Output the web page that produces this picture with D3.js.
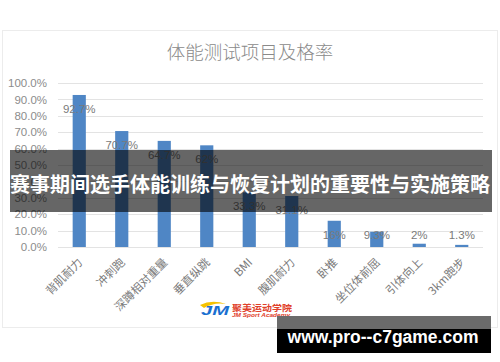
<!DOCTYPE html>
<html><head><meta charset="utf-8">
<script src="https://cdn.jsdelivr.net/npm/d3@7/dist/d3.min.js"></script>
<style>body{margin:0;background:#fff}svg{display:block}</style>
</head><body>
<svg id="c" width="500" height="362"></svg>
<script>
const categories = ["背肌耐力","冲刺跑","深蹲相对重量","垂直纵跳","BMI","腹肌耐力","卧推","坐位体前屈","引体向上","3km跑步"];
const values = [92.7, 70.7, 64.7, 62, 33.3, 31.1, 16, 9.3, 2, 1.3];
const valueLabels = ["92.7%","70.7%","64.7%","62%","33.3%","31.1%","16%","9.3%","2%","1.3%"];
const yTicks = [0,10,20,30,40,50,60,70,80,90,100];
const title = "体能测试项目及格率";
const banner = "赛事期间选手体能训练与恢复计划的重要性与实施策略";
const site = "www.pro--c7game.com";

const svg = d3.select("#c");
const cjk = "'Noto Sans CJK SC', sans-serif";
const lat = "'Liberation Sans', Arial, sans-serif";

// frame
svg.append("rect").attr("x",2.5).attr("y",30.5).attr("width",495).attr("height",297)
  .attr("fill","#fff").attr("stroke","#ececec");

svg.append("text").attr("x",250).attr("y",59).attr("text-anchor","middle")
  .attr("font-family",cjk).attr("font-weight",300).attr("font-size",18.5).attr("fill","#8a8a8a")
  .text(title);

const x = d3.scaleBand().domain(categories).range([58,483]).paddingInner(0.69).paddingOuter(0.345);
const y = d3.scaleLinear().domain([0,100]).range([247,83]);

// grid
svg.append("g").selectAll("line").data(yTicks).join("line")
  .attr("x1",58).attr("x2",483).attr("y1",d=>Math.round(y(d))+0.5).attr("y2",d=>Math.round(y(d))+0.5)
  .attr("stroke","#e3e3e3").attr("stroke-width",1.2);

// y axis labels
const yAxis = d3.axisLeft(y).tickValues(yTicks).tickFormat(d=>d.toFixed(1)+"%").tickSize(0).tickPadding(0);
const ga = svg.append("g").attr("transform","translate(47,0)").call(yAxis);
ga.select(".domain").remove();
ga.selectAll("text").attr("font-family",lat).attr("font-size",11.5).attr("fill","#8c8c8c");

// bars
svg.append("g").selectAll("rect").data(values).join("rect")
  .attr("x",(d,i)=>x(categories[i])).attr("width",x.bandwidth())
  .attr("y",d=>y(d)).attr("height",d=>y(0)-y(d)).attr("fill","#4f86c5");

// value labels
svg.append("g").selectAll("text").data(values).join("text")
  .attr("x",(d,i)=>x(categories[i])+x.bandwidth()/2)
  .attr("y",d=>Math.min(y(d)+18,239))
  .attr("text-anchor","middle").attr("font-family",lat).attr("font-size",11.5).attr("fill","#7a7a7a")
  .text((d,i)=>valueLabels[i]);

// x labels
svg.append("g").selectAll("text").data(categories).join("text")
  .attr("transform",d=>`translate(${x(d)+x.bandwidth()/2+4},${263}) rotate(-45)`)
  .attr("text-anchor","end").attr("font-family",cjk).attr("font-size",11.5).attr("fill","#7a7a7a")
  .text(d=>d);

// logo
const lg = svg.append("g").attr("transform","translate(200,302)");
lg.append("path").attr("d","M0,3 Q12,-3 26,2 Q14,0 4,6 Z").attr("fill","#f5c200");
lg.append("text").attr("x",1).attr("y",13).attr("font-family",lat).attr("font-style","italic")
  .attr("font-weight","bold").attr("font-size",13).attr("fill","#1a6fd0")
  .attr("textLength",28).attr("lengthAdjust","spacingAndGlyphs").text("JM");
lg.append("text").attr("x",32).attr("y",9).attr("font-family",cjk).attr("font-weight","bold")
  .attr("font-size",8.5).attr("fill","#e0402a")
  .attr("textLength",60).attr("lengthAdjust","spacingAndGlyphs").text("聚美运动学院");
lg.append("text").attr("x",32).attr("y",14.5).attr("font-family",lat).attr("font-style","italic")
  .attr("font-weight","bold").attr("font-size",5.5).attr("fill","#e0402a")
  .attr("textLength",58).attr("lengthAdjust","spacingAndGlyphs").text("JM Sport Academy");

// banner
svg.append("rect").attr("x",10).attr("y",150).attr("width",482).attr("height",62)
  .attr("fill","#000").attr("fill-opacity",0.6);
svg.append("text").attr("x",250).attr("y",192).attr("text-anchor","middle")
  .attr("font-family",cjk).attr("font-weight","bold").attr("font-size",20).attr("fill","#fff")
  .attr("textLength",480).attr("lengthAdjust","spacingAndGlyphs").text(banner);

// watermark
svg.append("rect").attr("x",277).attr("y",316).attr("width",214).attr("height",13).attr("fill","#6b6b6b");
svg.append("rect").attr("x",277).attr("y",329).attr("width",214).attr("height",24).attr("fill","#000");
svg.append("text").attr("x",383).attr("y",343).attr("text-anchor","middle")
  .attr("font-family",lat).attr("font-weight","bold").attr("font-size",17.5).attr("fill","#fff")
  .text(site);
</script>
</body></html>
